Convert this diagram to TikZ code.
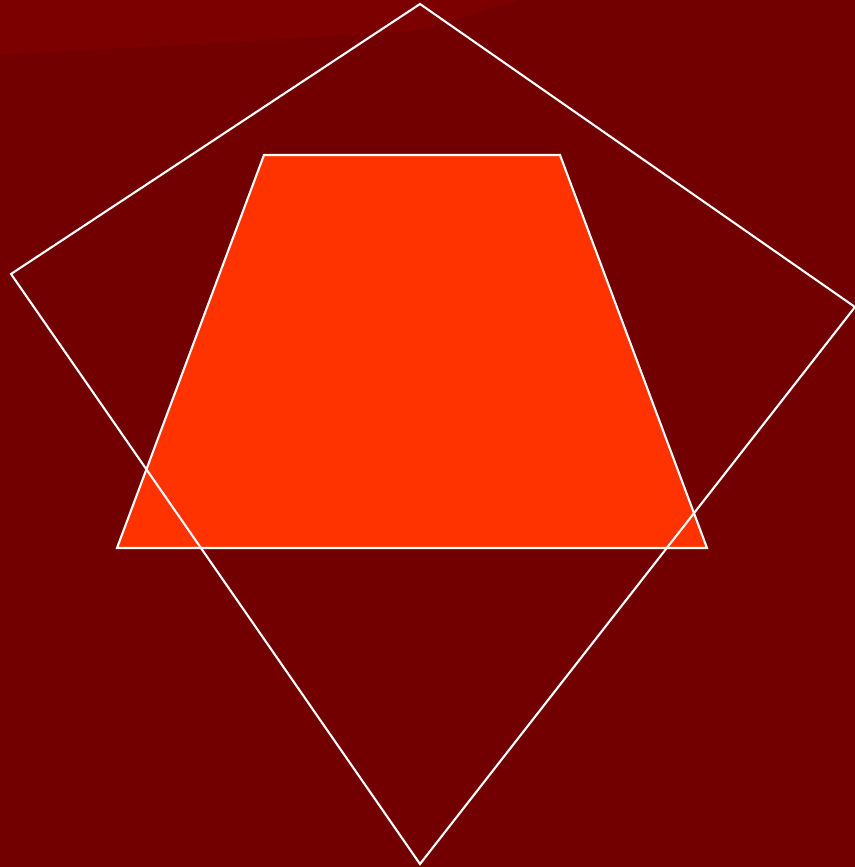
\documentclass[tikz,border=0pt]{standalone}
\usepackage{tikz}

\definecolor{bgred}{HTML}{720000}
\definecolor{bgglow}{HTML}{7C0000}
\definecolor{trapfill}{HTML}{FF3300}

\tikzset{
    outline/.style={draw=white, line width=0.6pt, line join=miter},
}

\begin{document}
\begin{tikzpicture}[x=0.01cm, y=-0.01cm]
    % 背景
    \fill[bgred] (0,0) rectangle (855,867);
    \useasboundingbox (0,0) rectangle (855,867);
    \fill[bgglow] (0,0) -- (520,0) -- (420,30) -- (300,38) -- (0,55) -- cycle;

    % 梯形
    \coordinate (tl) at (264,155);
    \coordinate (tr) at (560,155);
    \coordinate (br) at (707,548);
    \coordinate (bl) at (117,548);
    \fill[trapfill] (tl) -- (tr) -- (br) -- (bl) -- cycle;
    \draw[outline] (tl) -- (tr) -- (br) -- (bl) -- cycle;

    % 四边形
    \coordinate (top) at (420,4);
    \coordinate (right) at (855,307);
    \coordinate (bottom) at (420,864);
    \coordinate (left) at (11,274);
    \draw[outline] (top) -- (right) -- (bottom) -- (left) -- cycle;
\end{tikzpicture}
\end{document}
